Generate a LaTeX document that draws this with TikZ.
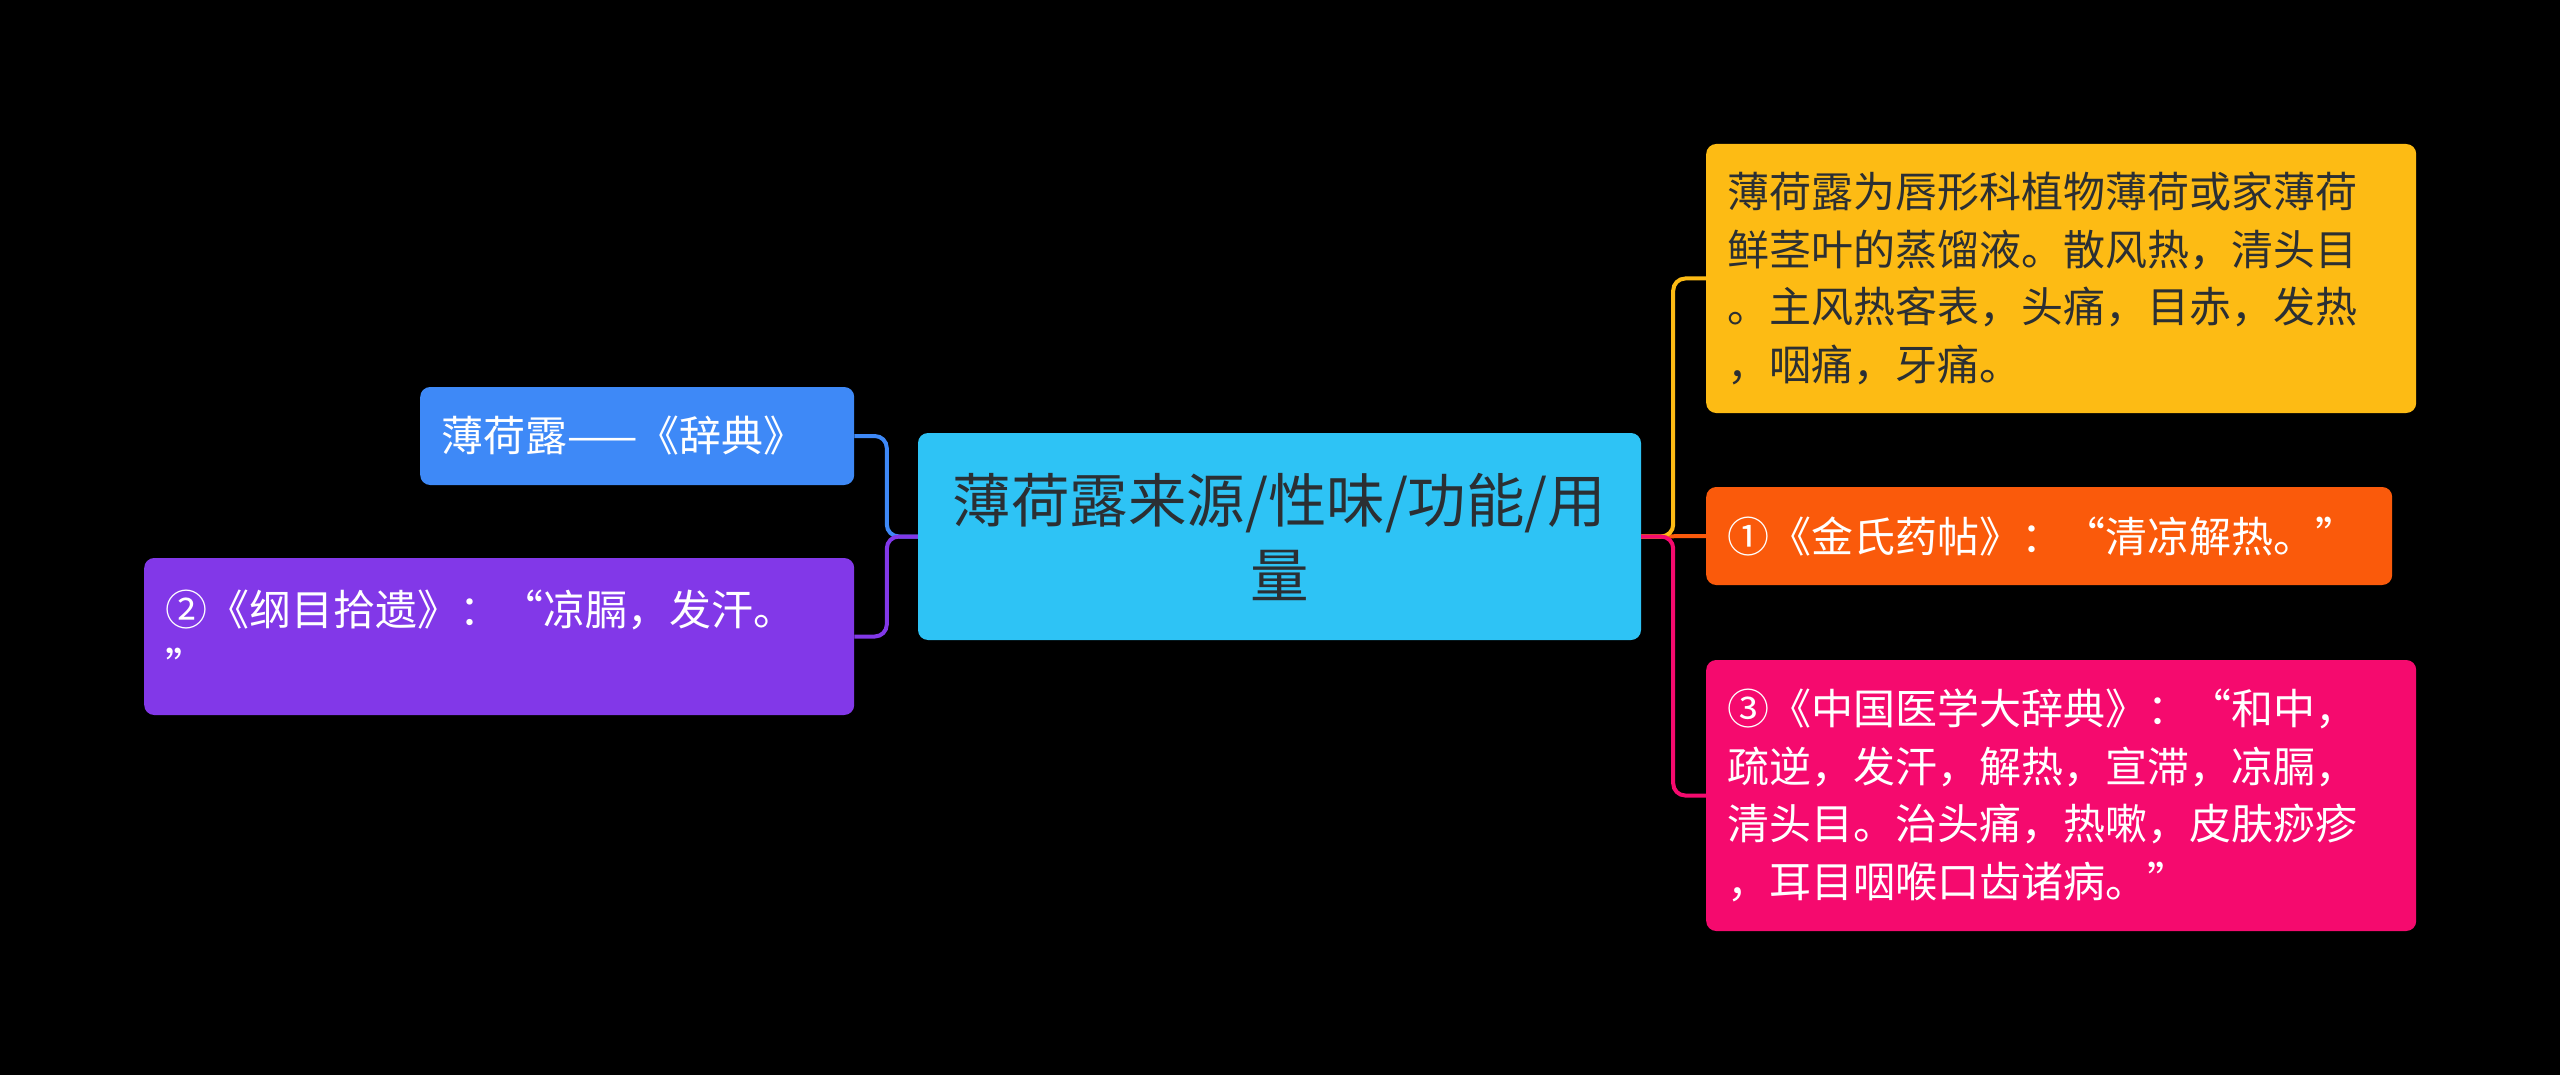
\documentclass[tikz,border=0pt]{standalone}
\usepackage{fontspec}
\setmainfont{Noto Sans CJK SC}
\usepackage{xcolor}
\usepackage{tikz}
\definecolor{mmCyan}{HTML}{2EC3F5}
\definecolor{mmYellow}{HTML}{FDBB14}
\definecolor{mmOrange}{HTML}{FA5A0B}
\definecolor{mmPink}{HTML}{F50A6E}
\definecolor{mmBlue}{HTML}{3E89F7}
\definecolor{mmPurple}{HTML}{8238E8}
\definecolor{mmInk}{HTML}{2B2F33}
\tikzset{
  topic/.style={
    rectangle,
    rounded corners=10pt,
    anchor=west,
    inner xsep=21pt,
    inner ysep=0pt,
    align=left,
    text=white,
    font=\fontsize{42}{57.5}\selectfont
  },
  root/.style={
    rectangle,
    rounded corners=10pt,
    fill=mmCyan,
    text=mmInk,
    align=center,
    inner xsep=21pt,
    inner ysep=0pt,
    font=\fontsize{58.5}{75}\selectfont,
    minimum width=723pt,
    minimum height=207pt,
    text width=681pt
  },
  link/.style={line width=4pt, rounded corners=12pt}
}

\begin{document}
\begin{tikzpicture}[x=1pt, y=-1pt]
  \fill[black] (0,0) rectangle (2560,1075);
  \useasboundingbox (0,0) rectangle (2560,1075);
  \node[root] (core) at (1279.5,536.5) {薄荷露来源/性味/功能/用\\量};
  \node[topic, fill=mmYellow, text=mmInk, minimum width=710pt, minimum height=269pt, text width=668pt] (source) at (1706,278.5) {薄荷露为唇形科植物薄荷或家薄荷\\鲜茎叶的蒸馏液。散风热，清头目\\。主风热客表，头痛，目赤，发热\\，咽痛，牙痛。};
  \node[topic, fill=mmOrange, minimum width=686pt, minimum height=98pt, text width=644pt] (jinshi) at (1706,536) {①《金氏药帖》：“清凉解热。”};
  \node[topic, fill=mmPink, minimum width=710pt, minimum height=271pt, text width=668pt] (cidian) at (1706,795.5) {③《中国医学大辞典》：“和中，\\疏逆，发汗，解热，宣滞，凉膈，\\清头目。治头痛，热嗽，皮肤痧疹\\，耳目咽喉口齿诸病。”};
  \node[topic, fill=mmBlue, minimum width=434pt, minimum height=98pt, text width=392pt] (title) at (420,436) {薄荷露——《辞典》};
  \node[topic, fill=mmPurple, minimum width=710pt, minimum height=157pt, text width=668pt] (gangmu) at (144,636.5) {②《纲目拾遗》：“凉膈，发汗。\\”};
  \draw[link, mmOrange] (core.east) -- (jinshi.west);
  \draw[link, mmYellow] (core.east) -- ++(32,0) |- (source.west);
  \draw[link, mmPink] (core.east) -- ++(32,0) |- (cidian.west);
  \draw[link, mmBlue] (core.west) -- ++(-31,0) |- (title.east);
  \draw[link, mmPurple] (core.west) -- ++(-31,0) |- (gangmu.east);
\end{tikzpicture}
\end{document}
